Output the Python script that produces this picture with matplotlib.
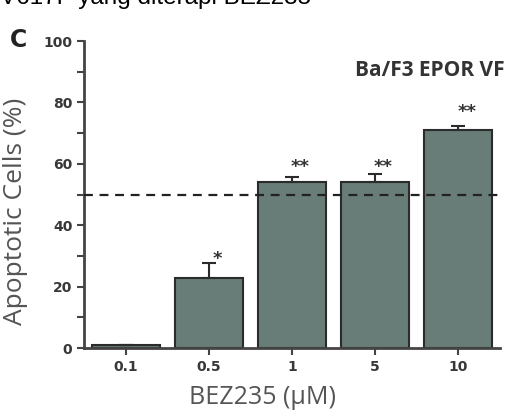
import numpy as np
import matplotlib
matplotlib.use("Agg")
import matplotlib.pyplot as plt
from matplotlib.ticker import MultipleLocator

# data
doses = ["0.1", "0.5", "1", "5", "10"]
apoptotic = [1.0, 23.0, 54.0, 54.0, 71.0]
err = [0.0, 4.8, 1.8, 2.6, 1.4]
stars = ["", "*", "**", "**", "**"]
star_y = [0, 29, 59, 59, 77]
threshold = 50

bar_color = "#687c78"
edge_color = "#2b2b2b"
text_gray = "#555555"

fig = plt.figure(figsize=(5.07, 4.19), dpi=100)
ax = fig.add_axes([0.166, 0.169, 0.82, 0.733])

x = np.arange(len(doses))
ax.bar(x, apoptotic, width=0.82, color=bar_color, edgecolor=edge_color, linewidth=1.5, zorder=2)
ax.errorbar(x, apoptotic, yerr=[np.zeros(len(err)), err], fmt="none",
            ecolor=edge_color, elinewidth=1.5, capsize=5, capthick=1.5, zorder=3)
ax.axhline(threshold, color="#222222", linestyle=(0, (4, 3)), linewidth=1.6, zorder=4)

for xi, s, sy in zip(x, stars, star_y):
    if s:
        ax.text(xi + 0.1, sy, s, ha="center", va="center", fontsize=13,
                fontweight="bold", color="#333333")

ax.set_xlim(-0.5, 4.5)
ax.set_ylim(0, 100)
ax.set_xticks(x)
ax.set_xticklabels(doses)
ax.yaxis.set_major_locator(MultipleLocator(20))
ax.yaxis.set_minor_locator(MultipleLocator(10))

for side in ["top", "right"]:
    ax.spines[side].set_visible(False)
for side in ["left", "bottom"]:
    ax.spines[side].set_linewidth(2)
    ax.spines[side].set_color("#444444")

ax.tick_params(axis="both", which="major", length=5, width=1.5, color="#444444",
               labelsize=10, labelcolor="#383838")
ax.tick_params(axis="y", which="minor", length=5, width=1.5, color="#444444")
for lbl in ax.get_xticklabels() + ax.get_yticklabels():
    lbl.set_fontweight("bold")

ax.set_ylabel("Apoptotic Cells (%)", fontsize=19, color=text_gray, family="Open Sans")
ax.yaxis.set_label_coords(-0.135, 0.445)
ax.set_xlabel("BEZ235 (\u00b5M)", fontsize=18, color=text_gray, family="Open Sans")
ax.xaxis.set_label_coords(0.428, -0.12)

fig.text(0.995, 1 - 70 / 419, "Ba/F3 EPOR VF", ha="right", va="center",
         fontsize=15, fontweight="bold", color="#333333", family="Open Sans")

fig.text(0.02, 0.905, "C", fontsize=17, fontweight="bold", color="#222222", va="center")
fig.text(0.0, 1 - 4 / 419, "V617F yang diterapi BEZ235", fontsize=17.5, color="black",
         family="Liberation Sans", va="baseline", ha="left")

fig.savefig("out.png", dpi=100, facecolor="white")
